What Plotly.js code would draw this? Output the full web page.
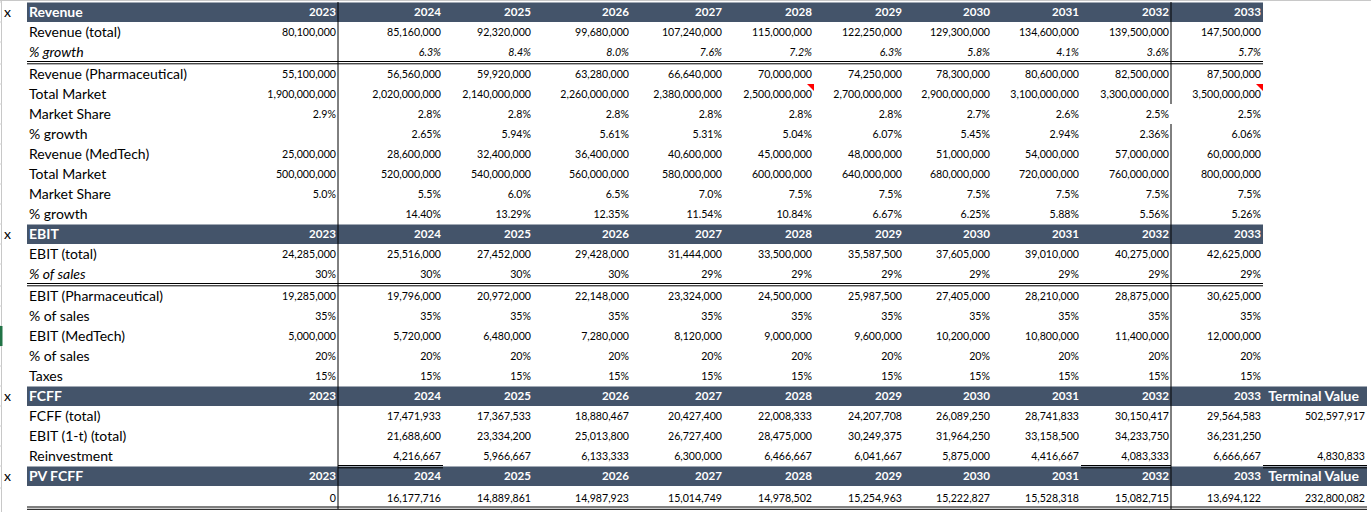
<!DOCTYPE html>
<html>
<head>
<meta charset="utf-8">
<script src="https://cdn.plot.ly/plotly-3.0.1.min.js"></script>
<style>
  html, body { margin: 0; padding: 0; background: #ffffff; }
  #chart { width: 1371px; height: 512px; }
</style>
</head>
<body>
<div id="chart"></div>
<script>
// ---------------- DATA ----------------
const years = [2023, 2024, 2025, 2026, 2027, 2028, 2029, 2030, 2031, 2032, 2033];
const terminalLabel = 'Terminal Value';

const revenueTotal   = [80100000, 85160000, 92320000, 99680000, 107240000, 115000000, 122250000, 129300000, 134600000, 139500000, 147500000];
const revenueGrowth  = [null, 6.3, 8.4, 8.0, 7.6, 7.2, 6.3, 5.8, 4.1, 3.6, 5.7];
const pharmaRevenue  = [55100000, 56560000, 59920000, 63280000, 66640000, 70000000, 74250000, 78300000, 80600000, 82500000, 87500000];
const pharmaMarket   = [1900000000, 2020000000, 2140000000, 2260000000, 2380000000, 2500000000, 2700000000, 2900000000, 3100000000, 3300000000, 3500000000];
const pharmaShare    = [2.9, 2.8, 2.8, 2.8, 2.8, 2.8, 2.8, 2.7, 2.6, 2.5, 2.5];
const pharmaGrowth   = [null, 2.65, 5.94, 5.61, 5.31, 5.04, 6.07, 5.45, 2.94, 2.36, 6.06];
const medtechRevenue = [25000000, 28600000, 32400000, 36400000, 40600000, 45000000, 48000000, 51000000, 54000000, 57000000, 60000000];
const medtechMarket  = [500000000, 520000000, 540000000, 560000000, 580000000, 600000000, 640000000, 680000000, 720000000, 760000000, 800000000];
const medtechShare   = [5.0, 5.5, 6.0, 6.5, 7.0, 7.5, 7.5, 7.5, 7.5, 7.5, 7.5];
const medtechGrowth  = [null, 14.40, 13.29, 12.35, 11.54, 10.84, 6.67, 6.25, 5.88, 5.56, 5.26];

const ebitTotal      = [24285000, 25516000, 27452000, 29428000, 31444000, 33500000, 35587500, 37605000, 39010000, 40275000, 42625000];
const ebitMargin     = [30, 30, 30, 30, 29, 29, 29, 29, 29, 29, 29];
const ebitPharma     = [19285000, 19796000, 20972000, 22148000, 23324000, 24500000, 25987500, 27405000, 28210000, 28875000, 30625000];
const pharmaMargin   = [35, 35, 35, 35, 35, 35, 35, 35, 35, 35, 35];
const ebitMedtech    = [5000000, 5720000, 6480000, 7280000, 8120000, 9000000, 9600000, 10200000, 10800000, 11400000, 12000000];
const medtechMargin  = [20, 20, 20, 20, 20, 20, 20, 20, 20, 20, 20];
const taxRate        = [15, 15, 15, 15, 15, 15, 15, 15, 15, 15, 15];

// FCFF rows: 2023..2033 then Terminal Value
const fcffTotal      = [null, 17471933, 17367533, 18880467, 20427400, 22008333, 24207708, 26089250, 28741833, 30150417, 29564583, 502597917];
const ebitAfterTax   = [null, 21688600, 23334200, 25013800, 26727400, 28475000, 30249375, 31964250, 33158500, 34233750, 36231250, null];
const reinvestment   = [null, 4216667, 5966667, 6133333, 6300000, 6466667, 6041667, 5875000, 4416667, 4083333, 6666667, 4830833];
const pvFcff         = [0, 16177716, 14889861, 14987923, 15014749, 14978502, 15254963, 15222827, 15528318, 15082715, 13694122, 232800082];

// Row layout of the sheet
const sheetRows = [
  {head: 'Revenue', terminal: false},
  {label: 'Revenue (total)', values: revenueTotal, fmt: 'num'},
  {label: '% growth', values: revenueGrowth, fmt: 'pct1', italic: true, italicValues: true},
  {label: 'Revenue (Pharmaceutical)', values: pharmaRevenue, fmt: 'num'},
  {label: 'Total Market', values: pharmaMarket, fmt: 'num'},
  {label: 'Market Share', values: pharmaShare, fmt: 'pct1'},
  {label: '% growth', values: pharmaGrowth, fmt: 'pct2'},
  {label: 'Revenue (MedTech)', values: medtechRevenue, fmt: 'num'},
  {label: 'Total Market', values: medtechMarket, fmt: 'num'},
  {label: 'Market Share', values: medtechShare, fmt: 'pct1'},
  {label: '% growth', values: medtechGrowth, fmt: 'pct2'},
  {head: 'EBIT', terminal: false},
  {label: 'EBIT (total)', values: ebitTotal, fmt: 'num'},
  {label: '% of sales', values: ebitMargin, fmt: 'pct0', italic: true},
  {label: 'EBIT (Pharmaceutical)', values: ebitPharma, fmt: 'num'},
  {label: '% of sales', values: pharmaMargin, fmt: 'pct0'},
  {label: 'EBIT (MedTech)', values: ebitMedtech, fmt: 'num'},
  {label: '% of sales', values: medtechMargin, fmt: 'pct0'},
  {label: 'Taxes', values: taxRate, fmt: 'pct0'},
  {head: 'FCFF', terminal: true},
  {label: 'FCFF (total)', values: fcffTotal, fmt: 'num'},
  {label: 'EBIT (1-t) (total)', values: ebitAfterTax, fmt: 'num'},
  {label: 'Reinvestment', values: reinvestment, fmt: 'num'},
  {head: 'PV FCFF', terminal: true},
  {label: '', values: pvFcff, fmt: 'num'}
];

// ---------------- STYLE / GEOMETRY ----------------
const W = 1371, H = 512;
const HEAD_FILL = '#44546A';
const FONT = 'Lato, "Open Sans", sans-serif';
const LABEL_SIZE = 14, NUM_SIZE = 10.6, YEAR_SIZE = 11.6, TV_SIZE = 14;
const TEXT_DY = 1.5;
const tableTop = 2;
const rowHeights = [20,20,22,20,20,20,20,20,20,20,20,20,20,22,20,20,20,20,20,20,20,20,20,22,20];
const labelLeft = 27;           // left edge of label column
const markX = 4;                // column A "x" markers
const colRight = [338, 443, 533, 631, 724, 814, 904, 992, 1081, 1171, 1263, 1367]; // right edges of value columns
const tableRight = colRight[colRight.length - 1];

// derived row tops / centers
const rowTop = [];
let acc = tableTop;
rowHeights.forEach(h => { rowTop.push(acc); acc += h; });
const rowCenter = rowTop.map(t => t + 10 + TEXT_DY);
const tableBottom = acc;

function fmtVal(v, fmt) {
  if (v === null || v === undefined) return '';
  if (fmt === 'num') return v.toLocaleString('en-US');
  if (fmt === 'pct0') return v.toFixed(0) + '%';
  if (fmt === 'pct1') return v.toFixed(1) + '%';
  if (fmt === 'pct2') return v.toFixed(2) + '%';
  return String(v);
}

const traces = [];

// label column
{
  const x = [], y = [], text = [], size = [], color = [];
  sheetRows.forEach((r, i) => {
    x.push(labelLeft + 2); y.push(rowCenter[i]);
    if (r.head) { text.push('<b>' + r.head + '</b>'); color.push('#ffffff'); }
    else { text.push(r.italic ? '<i>' + r.label + '</i>' : r.label); color.push('#000000'); }
    size.push(LABEL_SIZE);
  });
  traces.push({type: 'scatter', mode: 'text', x, y, text, textposition: 'middle right',
    textfont: {family: FONT, size, color}, hoverinfo: 'skip', cliponaxis: false});
}
// column A markers
{
  const x = [], y = [], text = [];
  sheetRows.forEach((r, i) => { if (r.head) { x.push(markX); y.push(rowCenter[i]); text.push('x'); } });
  traces.push({type: 'scatter', mode: 'text', x, y, text, textposition: 'middle right',
    textfont: {family: FONT, size: LABEL_SIZE, color: '#000000'}, hoverinfo: 'skip', cliponaxis: false});
}
// value columns
colRight.forEach((cr, j) => {
  const x = [], y = [], text = [], size = [], color = [];
  sheetRows.forEach((r, i) => {
    let t = '', s = NUM_SIZE, c = '#000000', pad = 2;
    if (r.head) {
      if (j < years.length) { t = '<b>' + years[j] + '</b>'; s = YEAR_SIZE; }
      else if (r.terminal) { t = '<b>' + terminalLabel + '</b>'; pad = 8; s = TV_SIZE; }
      c = '#ffffff';
    } else {
      t = fmtVal(r.values[j], r.fmt);
      if (t && r.italicValues) t = '<i>' + t + '</i>';
    }
    x.push(cr - pad); y.push(rowCenter[i]); text.push(t); size.push(s); color.push(c);
  });
  traces.push({type: 'scatter', mode: 'text', x, y, text, textposition: 'middle left',
    textfont: {family: FONT, size, color}, hoverinfo: 'skip', cliponaxis: false});
});

// ---------------- SHAPES ----------------
const shapes = [];
const line = (x0, y0, x1, y1, color, width) => shapes.push({type: 'line', xref: 'x', yref: 'y',
  x0, y0, x1, y1, line: {color: color || '#000000', width: width || 1}, layer: 'above'});

// excel chrome: top header border and left row-header border
line(0, 0.5, W, 0.5, '#c8c8c8', 1);
line(1.5, 0, 1.5, H, '#c8c8c8', 1);
rowTop.forEach(t => line(0, t, 2, t, '#d0d0d0', 1));
shapes.push({type: 'rect', xref: 'x', yref: 'y', x0: 0, x1: 2.5, y0: rowTop[16], y1: rowTop[17],
  fillcolor: '#217346', line: {width: 0}, layer: 'above'});

// header bars
sheetRows.forEach((r, i) => {
  if (r.head) shapes.push({type: 'rect', xref: 'x', yref: 'y', x0: labelLeft, x1: r.terminal ? tableRight : colRight[10],
    y0: rowTop[i] + 0.5, y1: rowTop[i] + 20, fillcolor: HEAD_FILL, line: {width: 0}, layer: 'below'});
});

// vertical separators
line(colRight[0], tableTop, colRight[0], tableBottom + 1);
line(colRight[9], tableTop, colRight[9], rowTop[5]);
line(colRight[9], rowTop[6], colRight[9], tableBottom + 1);

// double rules under total blocks
[2, 13].forEach(i => {
  const y = rowTop[i] + 19.5;
  line(labelLeft, y, colRight[10], y);
  line(labelLeft, y + 2.3, colRight[10], y + 2.3);
});
// double underline under Reinvestment (selected cells)
[[colRight[0], colRight[1]], [colRight[8], colRight[9]], [colRight[10], colRight[11]]].forEach(([a, b]) => {
  const y = rowTop[22] + 19.5;
  line(a, y, b, y);
  line(a, y + 2.3, b, y + 2.3);
});
// bottom double rule
line(labelLeft, tableBottom - 1, tableRight, tableBottom - 1);
line(labelLeft, tableBottom + 1.3, tableRight, tableBottom + 1.3);

// comment indicators (red triangles)
[[5, 4], [10, 4]].forEach(([c, r]) => {
  const xr = colRight[c], yt = rowTop[r];
  shapes.push({type: 'path', xref: 'x', yref: 'y',
    path: `M ${xr - 7} ${yt} L ${xr} ${yt} L ${xr} ${yt + 7} Z`,
    fillcolor: '#ff0000', line: {width: 0}, layer: 'above'});
});

const layout = {
  width: W, height: H,
  margin: {l: 0, r: 0, t: 0, b: 0},
  paper_bgcolor: '#ffffff', plot_bgcolor: '#ffffff',
  showlegend: false,
  xaxis: {range: [0, W], visible: false, fixedrange: true},
  yaxis: {range: [H, 0], visible: false, fixedrange: true},
  shapes
};

Plotly.newPlot('chart', traces, layout, {displayModeBar: false, staticPlot: true});
</script>
</body>
</html>
